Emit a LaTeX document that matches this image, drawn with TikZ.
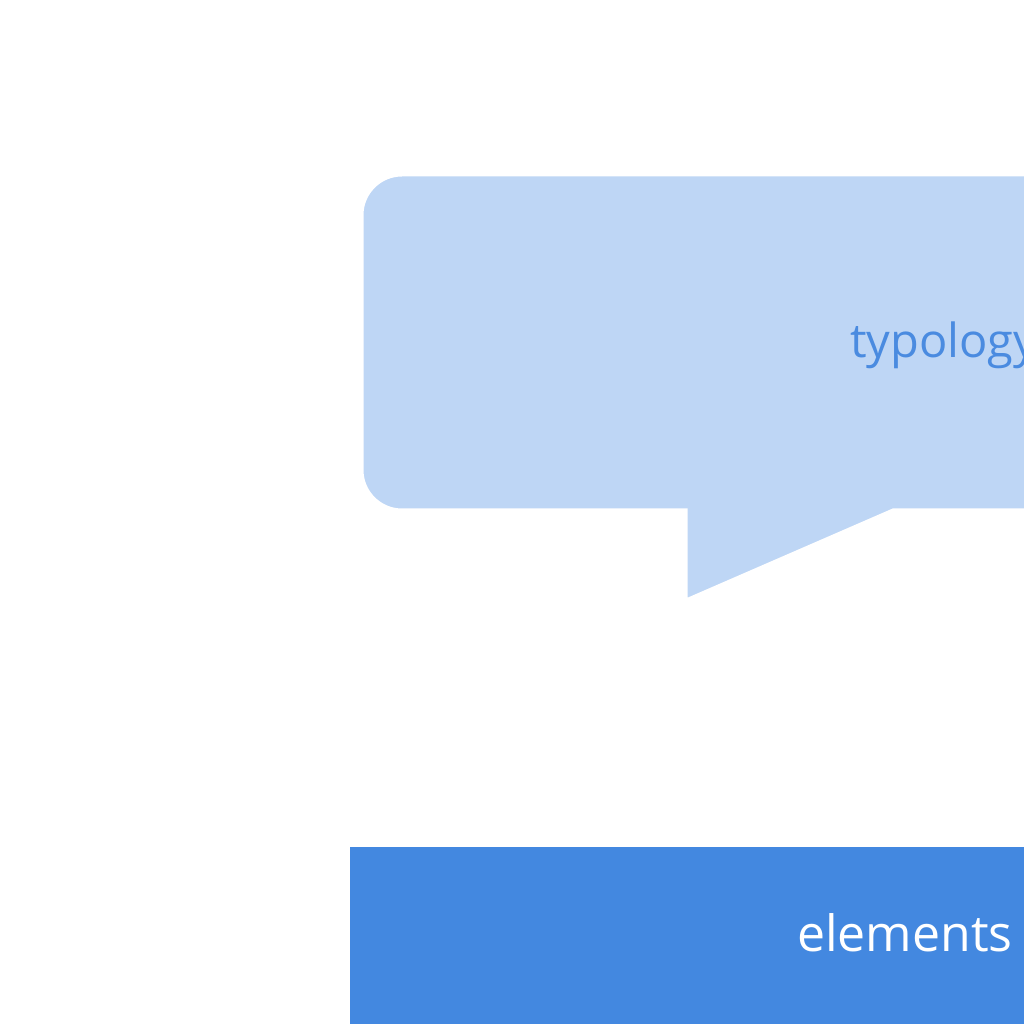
\documentclass[tikz,border=0pt]{standalone}
\usepackage{fontspec}
\setmainfont{Open Sans}
\definecolor{bubblefill}{HTML}{BED6F5}
\definecolor{bubbletext}{HTML}{4A8BE0}
\definecolor{boxfill}{HTML}{4388E0}
\begin{document}
\begin{tikzpicture}[x=1pt,y=1pt,
  lbl/.style={anchor=base west,inner sep=0pt}]
\useasboundingbox (0,0) rectangle (1024,1024);
\clip (0,0) rectangle (1024,1024);
\fill[white] (0,0) rectangle (1024,1024);
% speech bubble
\fill[bubblefill,draw=white,line width=3pt]
  (686,514) -- (686,424) -- (893,514) -- (1100,514) -- (1100,849)
  -- (402,849) arc[start angle=90,end angle=180,radius=40]
  -- (362,554) arc[start angle=180,end angle=270,radius=40] -- cycle;
\node[lbl,text=bubbletext,font=\fontsize{47}{56}\selectfont] (typ) at (850,666) {typology};
% blue box
\fill[boxfill] (350,-10) rectangle (1100,177);
\node[lbl,text=white,font=\fontsize{50}{60}\selectfont] (elem) at (797,72) {elements};
\end{tikzpicture}
\end{document}
